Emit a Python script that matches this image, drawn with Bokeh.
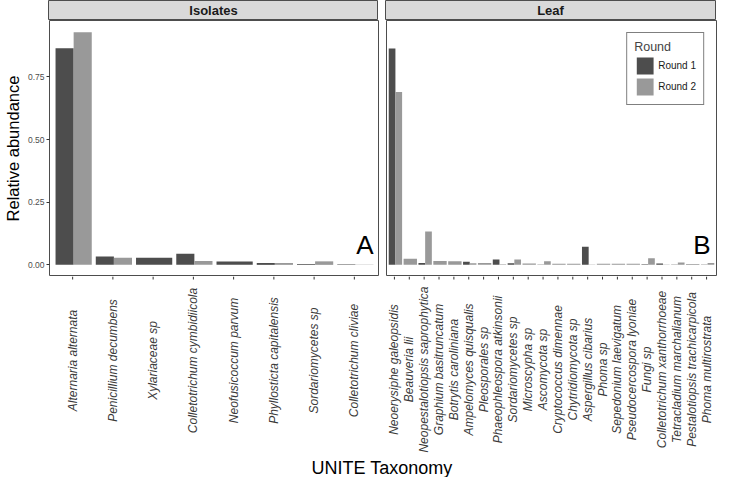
import numpy as np
from bokeh.plotting import figure
from bokeh.layouts import row, column
from bokeh.models import (Range1d, FixedTicker, ColumnDataSource, NumeralTickFormatter,
                          Legend, LegendItem)
from bokeh.core.properties import value
from bokeh.embed import file_html
from bokeh.resources import INLINE

FONT = "Liberation Sans"
DARK = "#4D4D4D"
LIGHT = "#999999"

# ---------------- data ----------------
rounds = ["Round 1", "Round 2"]
panels = ["Isolates", "Leaf"]
panel_tags = ["A", "B"]

iso_taxa = ["Alternaria alternata", "Penicillium decumbens", "Xylariaceae sp",
            "Colletotrichum cymbidiicola", "Neofusicoccum parvum",
            "Phyllosticta capitalensis", "Sordariomycetes sp", "Colletotrichum cliviae"]
iso_r1 = [0.865, 0.033, 0.028, 0.044, 0.013, 0.0075, 0.003, 0.002]
iso_r2 = [0.929, 0.028, None, 0.015, None, 0.0075, 0.014, 0.001]

leaf_taxa = ["Neoerysiphe galeopsidis", "Beauveria lii", "Neopestalotiopsis saprophytica",
             "Graphium basitruncatum", "Botrytis caroliniana", "Ampelomyces quisqualis",
             "Pleosporales sp", "Phaeophleospora atkinsonii", "Sordariomycetes sp",
             "Microscypha sp", "Ascomycota sp", "Cryptococcus dimennae",
             "Chytridiomycota sp", "Aspergillus cibarius", "Phoma sp",
             "Sepedonium laevigatum", "Pseudocercospora lyoniae", "Fungi sp",
             "Colletotrichum xanthorrhoeae", "Tetracladium marchalianum",
             "Pestalotiopsis trachicarpicola", "Phoma multirostrata"]
leaf_r1 = [0.864, None, 0.007, None, None, 0.012, None, 0.021, 0.006, None, 0.001,
           None, None, 0.072, None, None, None, 0.002, 0.005, 0.001, None, 0.001]
leaf_r2 = [0.690, 0.024, 0.133, 0.015, 0.014, 0.006, 0.0075, 0.002, 0.021, 0.005, 0.014,
           0.004, 0.004, 0.001, 0.004, 0.004, 0.004, 0.026, 0.001, 0.009, 0.003, 0.007]

y_ticks = [0.0, 0.25, 0.5, 0.75]

# ---------------- layout constants ----------------
ML = 48      # left border (y axis)
GAP = 7      # gap between panels
MR = 2
FW = 330     # panel frame width
FH = 256     # panel frame height
SH = 20      # strip height
LH = 178     # label area height (incl. ticks)
TH = 23      # x title height
BAR_W = 0.9
TICK = 3

all_vals = [v for v in iso_r1 + iso_r2 + leaf_r1 + leaf_r2 if v is not None]
ymax = max(all_vals)
pad = 0.05 * ymax
Y_LO, Y_HI = -pad, ymax + pad


def bar_sources(v1, v2):
    out = []
    for k, (own, other) in enumerate([(v1, v2), (v2, v1)]):
        xs, tops, ws = [], [], []
        for i, (v, o) in enumerate(zip(own, other)):
            if v is None:
                continue
            if o is None:
                xs.append(i + 1)
                ws.append(BAR_W)
            else:
                xs.append(i + 1 + (-1 if k == 0 else 1) * BAR_W / 4)
                ws.append(BAR_W / 2)
            tops.append(v)
        out.append(ColumnDataSource(dict(x=xs, top=tops, w=ws)))
    return out


def borders(left):
    return dict(min_border_left=ML if left else GAP, min_border_right=0 if left else MR)


def strip(text, left):
    s = figure(frame_width=FW, frame_height=SH, x_range=Range1d(0, 1), y_range=Range1d(0, 1),
               x_axis_location=None, y_axis_location=None, output_backend="svg",
               toolbar_location=None, min_border_top=0, min_border_bottom=0, **borders(left))
    s.background_fill_color = "#D9D9D9"
    s.outline_line_color = "#4D4D4D"
    s.outline_line_width = 1
    s.grid.visible = False
    s.text(x=[0.5], y=[0.5], text=[text], text_align="center", text_baseline="middle",
           text_font=value(FONT), text_font_style="bold", text_font_size="13px",
           text_color="#1A1A1A")
    return s


def panel(taxa, v1, v2, tag, left):
    n = len(taxa)
    p = figure(frame_width=FW, frame_height=FH, x_range=Range1d(0.4, n + 0.6),
               y_range=Range1d(Y_LO, Y_HI), output_backend="svg", toolbar_location=None,
               x_axis_location=None, y_axis_location="left" if left else None,
               min_border_top=0, min_border_bottom=0, **borders(left))
    p.grid.visible = False
    p.outline_line_color = "#4D4D4D"
    p.outline_line_width = 1
    src1, src2 = bar_sources(v1, v2)
    r1 = p.vbar(x="x", top="top", width="w", bottom=0, source=src1,
                fill_color=DARK, line_color=None)
    r2 = p.vbar(x="x", top="top", width="w", bottom=0, source=src2,
                fill_color=LIGHT, line_color=None)
    if left:
        ya = p.yaxis[0]
        ya.ticker = FixedTicker(ticks=y_ticks)
        ya.formatter = NumeralTickFormatter(format="0.00")
        ya.major_label_text_font = FONT
        ya.major_label_text_font_size = "8.5px"
        ya.major_label_text_color = "#4D4D4D"
        ya.major_label_standoff = 2
        ya.axis_line_color = None
        ya.major_tick_in = 0
        ya.major_tick_out = 3
        ya.major_tick_line_color = "#333333"
        ya.minor_tick_line_color = None
        ya.axis_label = "Relative abundance"
        ya.axis_label_text_font = FONT
        ya.axis_label_text_font_size = "16.5px"
        ya.axis_label_text_font_style = "normal"
        ya.axis_label_text_color = "black"
        ya.axis_label_standoff = 3
    p.text(x=[n + 0.6], y=[0.079], text=[tag], x_offset=-6, text_align="right",
           text_baseline="alphabetic", text_font=value(FONT), text_font_size="26px",
           text_color="black")
    return p, r1, r2


def labels(taxa, xr, left, center):
    lf = figure(frame_width=FW, frame_height=LH, x_range=xr, y_range=Range1d(LH, 0),
                x_axis_location=None, y_axis_location=None, output_backend="svg",
                toolbar_location=None, min_border_top=0, min_border_bottom=0, **borders(left))
    lf.outline_line_color = None
    lf.grid.visible = False
    pos = list(range(1, len(taxa) + 1))
    src = ColumnDataSource(dict(x=pos, y=[center] * len(taxa), t=taxa,
                                y0=[0] * len(taxa), y1=[TICK] * len(taxa)))
    lf.segment(x0="x", x1="x", y0="y0", y1="y1", source=src, line_color="#333333",
               line_width=1)
    lf.text(x="x", y="y", text="t", angle=np.pi / 2, text_align="center",
            text_baseline="middle", text_font=value(FONT), text_font_style="italic",
            text_font_size="12px", text_color="#3A3A3A", source=src)
    return lf


s1 = strip(panels[0], True)
s2 = strip(panels[1], False)
p1, _, _ = panel(iso_taxa, iso_r1, iso_r2, panel_tags[0], True)
p2, q1, q2 = panel(leaf_taxa, leaf_r1, leaf_r2, panel_tags[1], False)

legend = Legend(items=[LegendItem(label=rounds[0], renderers=[q1]),
                       LegendItem(label=rounds[1], renderers=[q2])],
                title="Round", location="top_right", margin=12, padding=7, spacing=0,
                glyph_width=21, glyph_height=21, label_standoff=3, label_height=18,
                title_standoff=1)
legend.title_text_font = FONT
legend.title_text_font_size = "12.5px"
legend.title_text_font_style = "normal"
legend.label_text_font = FONT
legend.label_text_font_size = "10px"
legend.label_text_color = "#1A1A1A"
legend.border_line_color = "black"
legend.border_line_width = 1
legend.background_fill_alpha = 1
p2.add_layout(legend)

l1 = labels(iso_taxa, p1.x_range, True, 84)
l2 = labels(leaf_taxa, p2.x_range, False, 93)

xt = figure(frame_width=2 * FW + GAP, frame_height=TH, x_range=Range1d(0, 1), y_range=Range1d(0, 1),
            x_axis_location=None, y_axis_location=None, output_backend="svg",
            toolbar_location=None, min_border_left=ML, min_border_right=MR,
            min_border_top=0, min_border_bottom=0)
xt.outline_line_color = None
xt.grid.visible = False
xt.text(x=[0.5], y=[0.0], text=["UNITE Taxonomy"], text_align="center", text_baseline="bottom",
        text_font=value(FONT), text_font_size="18px", text_color="black")

layout = column(row(s1, s2), row(p1, p2), row(l1, l2), xt)

open("out.html", "w").write(file_html(layout, INLINE))
